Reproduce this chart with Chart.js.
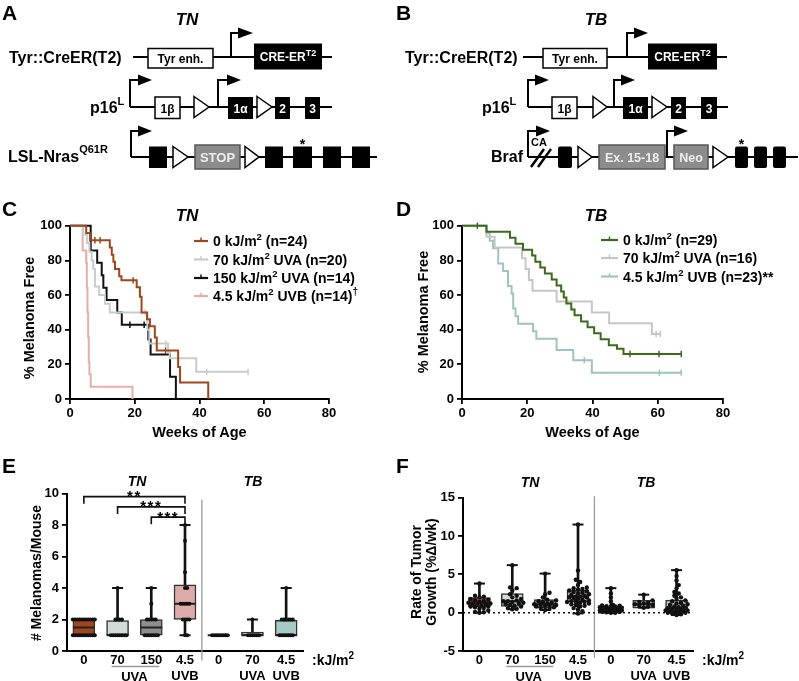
<!DOCTYPE html>
<html><head><meta charset="utf-8">
<script src="https://cdn.jsdelivr.net/npm/chart.js@4.4.1/dist/chart.umd.min.js"></script>
<style>
html,body{margin:0;padding:0;background:#fff;}
#wrap{position:relative;width:799px;height:681px;overflow:hidden;background:#fff;}
canvas{position:absolute;}
#ov{position:absolute;left:0;top:0;}
#ov text{font-family:'Liberation Sans',Arial,sans-serif;font-weight:bold;}
</style></head>
<body><div id="wrap">
<canvas id="cC" style="left:0px;top:215px;" width="345" height="230"></canvas>
<canvas id="cD" style="left:400px;top:215px;" width="340" height="230"></canvas>
<canvas id="cE" style="left:0px;top:470px;" width="320" height="211"></canvas>
<canvas id="cF" style="left:400px;top:470px;" width="310" height="211"></canvas>
<svg id="ov" width="799" height="681" viewBox="0 0 799 681">
<!-- panel letters -->
<text x="2" y="20" font-size="21">A</text>
<text x="396" y="20" font-size="21">B</text>
<text x="2" y="216" font-size="21">C</text>
<text x="396" y="216" font-size="21">D</text>
<text x="2" y="473" font-size="21">E</text>
<text x="396" y="473" font-size="21">F</text>
<!-- panel titles -->
<g font-style="italic" text-anchor="middle">
<text x="187" y="25" font-size="17" font-style="italic">TN</text>
<text x="596" y="25" font-size="17" font-style="italic">TB</text>
<text x="187" y="221" font-size="17" font-style="italic">TN</text>
<text x="596" y="221" font-size="17" font-style="italic">TB</text>
<text x="137" y="486" font-size="14" font-style="italic">TN</text>
<text x="253" y="486" font-size="14" font-style="italic">TB</text>
<text x="530" y="487" font-size="14" font-style="italic">TN</text>
<text x="646" y="487" font-size="14" font-style="italic">TB</text>
</g>
<!-- ===== Diagram A ===== -->
<text x="9" y="63" font-size="16">Tyr::CreER(T2)</text>
<text x="90" y="113" font-size="16">p16<tspan font-size="11" dy="-8">L</tspan></text>
<text x="8" y="162" font-size="16">LSL-Nras<tspan font-size="11" dy="-9">Q61R</tspan></text>
<g stroke="#000" stroke-width="2" fill="none">
<line x1="133" y1="57" x2="332" y2="57"/>
<line x1="130" y1="107" x2="332" y2="107"/>
<line x1="131" y1="157" x2="377" y2="157"/>
<path d="M231 57V33H240"/>
<path d="M130 107V80H139"/>
<path d="M218 107V80H228"/>
<path d="M131 157V131H139"/>
</g>
<g fill="#000">
<polygon points="238,27.5 253,33 238,38.5"/>
<polygon points="138,74.5 152,80 138,85.5"/>
<polygon points="227,74.5 241,80 227,85.5"/>
<polygon points="138,125.5 152,131 138,136.5"/>
</g>
<rect x="148" y="48.5" width="65" height="19.5" fill="#fff" stroke="#000" stroke-width="1.5"/>
<text x="180.5" y="62.5" font-size="12" text-anchor="middle">Tyr enh.</text>
<rect x="254" y="43.5" width="68" height="26" fill="#000"/>
<text x="288" y="61" font-size="12" text-anchor="middle" fill="#fff">CRE-ER<tspan font-size="9" dy="-5">T2</tspan></text>
<rect x="155" y="97" width="25" height="21.5" fill="#fff" stroke="#000" stroke-width="1.5"/>
<text x="167.5" y="112.5" font-size="12" text-anchor="middle">1β</text>
<polygon points="194,96.5 209,107 194,117.5" fill="#fff" stroke="#000" stroke-width="1.5"/>
<rect x="228" y="97" width="25" height="22" fill="#000"/>
<text x="240.5" y="112.5" font-size="12" text-anchor="middle" fill="#fff">1α</text>
<polygon points="257,96.5 272,107 257,117.5" fill="#fff" stroke="#000" stroke-width="1.5"/>
<rect x="275" y="97" width="15" height="22" fill="#000"/>
<text x="282.5" y="112.5" font-size="12" text-anchor="middle" fill="#fff">2</text>
<rect x="305" y="97" width="15" height="22" fill="#000"/>
<text x="312.5" y="112.5" font-size="12" text-anchor="middle" fill="#fff">3</text>
<rect x="149" y="146.5" width="18" height="21.5" fill="#000"/>
<polygon points="173,146.5 188,157 173,167.5" fill="#fff" stroke="#000" stroke-width="1.5"/>
<rect x="195" y="145" width="45" height="24" fill="#8c8c8c" stroke="#555" stroke-width="1.5"/>
<text x="217.5" y="162" font-size="13" text-anchor="middle" fill="#eee">STOP</text>
<polygon points="245,146.5 259,157 245,167.5" fill="#fff" stroke="#000" stroke-width="1.5"/>
<rect x="265" y="146.5" width="18" height="21.5" fill="#000"/>
<rect x="293" y="146.5" width="19" height="21.5" fill="#000"/>
<text x="302.5" y="149" font-size="14" text-anchor="middle">*</text>
<rect x="323" y="146.5" width="18" height="21.5" fill="#000"/>
<rect x="352" y="146.5" width="18" height="21.5" fill="#000"/>
<!-- ===== Diagram B ===== -->
<text x="405" y="63" font-size="16">Tyr::CreER(T2)</text>
<text x="482" y="113" font-size="16">p16<tspan font-size="11" dy="-8">L</tspan></text>
<text x="523" y="162" font-size="16" text-anchor="end">Braf</text>
<text x="531" y="146" font-size="11">CA</text>
<g stroke="#000" stroke-width="2" fill="none">
<line x1="523" y1="57" x2="727" y2="57"/>
<line x1="528" y1="107" x2="728" y2="107"/>
<line x1="528" y1="157" x2="798" y2="157"/>
<path d="M627 57V33H636"/>
<path d="M528 107V80H537"/>
<path d="M614 107V80H623"/>
<path d="M528 157V131H537"/>
<path d="M667 157V131H675"/>
</g>
<g stroke="#000" stroke-width="2.5">
<line x1="531" y1="167" x2="544" y2="149"/>
<line x1="538" y1="167" x2="551" y2="149"/>
</g>
<g fill="#000">
<polygon points="634,27.5 648,33 634,38.5"/>
<polygon points="535,74.5 549,80 535,85.5"/>
<polygon points="621,74.5 635,80 621,85.5"/>
<polygon points="536,125.5 550,131 536,136.5"/>
<polygon points="674,125.5 688,131 674,136.5"/>
</g>
<rect x="543" y="48.5" width="64" height="19.5" fill="#fff" stroke="#000" stroke-width="1.5"/>
<text x="575" y="62.5" font-size="12" text-anchor="middle">Tyr enh.</text>
<rect x="648" y="43.5" width="69" height="26" fill="#000"/>
<text x="682.5" y="61" font-size="12" text-anchor="middle" fill="#fff">CRE-ER<tspan font-size="9" dy="-5">T2</tspan></text>
<rect x="552" y="97" width="25" height="21.5" fill="#fff" stroke="#000" stroke-width="1.5"/>
<text x="564.5" y="112.5" font-size="12" text-anchor="middle">1β</text>
<polygon points="593,96.5 607,107 593,117.5" fill="#fff" stroke="#000" stroke-width="1.5"/>
<rect x="623" y="97" width="25" height="22" fill="#000"/>
<text x="635.5" y="112.5" font-size="12" text-anchor="middle" fill="#fff">1α</text>
<polygon points="652,96.5 667,107 652,117.5" fill="#fff" stroke="#000" stroke-width="1.5"/>
<rect x="671" y="97" width="15" height="22" fill="#000"/>
<text x="678.5" y="112.5" font-size="12" text-anchor="middle" fill="#fff">2</text>
<rect x="701" y="97" width="16" height="22" fill="#000"/>
<text x="709" y="112.5" font-size="12" text-anchor="middle" fill="#fff">3</text>
<rect x="558" y="146.5" width="14" height="21.5" rx="2" fill="#000"/>
<polygon points="578,146.5 592,157 578,167.5" fill="#fff" stroke="#000" stroke-width="1.5"/>
<rect x="599" y="145" width="66" height="24" fill="#8c8c8c" stroke="#555" stroke-width="1.5"/>
<text x="632" y="162" font-size="12.5" text-anchor="middle" fill="#eee">Ex. 15-18</text>
<rect x="674" y="145" width="34" height="24" fill="#8c8c8c" stroke="#555" stroke-width="1.5"/>
<text x="691" y="162" font-size="12.5" text-anchor="middle" fill="#eee">Neo</text>
<polygon points="713,146.5 728,157 713,167.5" fill="#fff" stroke="#000" stroke-width="1.5"/>
<rect x="735" y="146.5" width="13" height="21.5" rx="2" fill="#000"/>
<text x="741.5" y="149" font-size="14" text-anchor="middle">*</text>
<rect x="754" y="146.5" width="13" height="21.5" rx="2" fill="#000"/>
<rect x="773" y="146.5" width="13" height="21.5" rx="2" fill="#000"/>
<!-- axis titles -->
<text transform="translate(34,318) rotate(-90)" text-anchor="middle" font-size="14.5">% Melanoma Free</text>
<text transform="translate(428,312) rotate(-90)" text-anchor="middle" font-size="14.5">% Melanoma Free</text>
<text x="199.5" y="437" text-anchor="middle" font-size="14.5">Weeks of Age</text>
<text x="592.5" y="437" text-anchor="middle" font-size="14.5">Weeks of Age</text>
<text transform="translate(41,573) rotate(-90)" text-anchor="middle" font-size="14">&#35; Melanomas/Mouse</text>
<text transform="translate(421,572) rotate(-90)" text-anchor="middle" font-size="14">Rate of Tumor</text>
<text transform="translate(436,572) rotate(-90)" text-anchor="middle" font-size="14">Growth (%Δ/wk)</text>
<text x="312" y="665" font-size="14">:kJ/m<tspan font-size="10" dy="-6">2</tspan></text>
<text x="702" y="665" font-size="14">:kJ/m<tspan font-size="10" dy="-6">2</tspan></text>
<!-- legends -->
<g id="legC"></g>
<g id="legD"></g>
<g id="dyn"></g>
</svg>
</div>
<script>
// ================= DATA =================
// Panel C (TN) Kaplan-Meier: weeks of age and % melanoma free
const cWk0    = [0, 5.0, 6.2, 12.3, 12.9, 13.4, 13.9, 15.2, 15.9, 20.6, 21.6, 22.1, 23.8, 24.7, 26.2, 26.8, 33.4, 34.0, 42.7];
const cPct0   = [100, 95.8, 91.7, 87.5, 83.3, 79.2, 75.0, 70.8, 68.5, 64.5, 59.0, 50.0, 46.0, 42.0, 35.5, 28.0, 18.5, 9.5, 0];
const cWk70   = [0, 4.0, 5.2, 6.0, 6.7, 7.2, 7.7, 9.0, 10.8, 12.3, 23.9, 24.5, 30.3, 30.8, 39.0, 55.0];
const cPct70  = [100, 95.0, 90.0, 85.0, 80.0, 75.0, 65.0, 60.0, 55.0, 50.0, 40.0, 32.0, 27.0, 23.5, 15.7, 15.7];
const cWk150  = [0, 6.4, 8.4, 9.8, 10.3, 11.3, 14.6, 16.0, 24.2, 24.9, 30.9, 32.7];
const cPct150 = [100, 85.7, 78.6, 71.4, 64.3, 57.1, 50.0, 42.9, 34.3, 25.7, 12.9, 0];
const cWkUVB  = [0, 3.9, 5.0, 5.2, 5.4, 5.6, 5.8, 6.0, 6.4, 19.3];
const cPctUVB = [100, 85.7, 78.6, 64.3, 50.0, 35.7, 21.4, 14.3, 7.1, 0];
// censored marks
const cCensWk0 = [7.7, 9.3, 19.5, 29.5],  cCensPct0 = [91.7, 91.7, 68.5, 28.0];
const cCensWk70 = [23.2, 29.6, 42.2, 55.0], cCensPct70 = [50.0, 32.0, 15.7, 15.7];
const cCensWk150 = [18.5, 22.9], cCensPct150 = [42.9, 42.9];
const cCensWkUVB = [], cCensPctUVB = [];

// Panel D (TB)
const dWk0    = [0, 7.5, 14.7, 16.4, 18.7, 21.5, 22.5, 24.0, 25.4, 27.5, 29.0, 30.4, 31.2, 32.0, 33.5, 34.5, 36.5, 38.5, 40.5, 42.5, 45.0, 47.5, 49.5, 67.2];
const dPct0   = [100, 96.6, 93.1, 89.7, 86.2, 82.8, 79.3, 75.9, 72.4, 69.0, 65.5, 62.1, 58.6, 55.2, 51.7, 48.3, 44.8, 41.4, 37.9, 34.5, 31.0, 29.0, 26.0, 26.0];
const dWk70   = [0, 7.5, 10.0, 18.4, 19.5, 20.5, 21.6, 29.0, 39.8, 45.1, 58.2, 60.8];
const dPct70  = [100, 93.75, 87.5, 81.25, 75.0, 68.75, 62.5, 56.25, 50.0, 43.75, 37.5, 37.5];
const dWkUVB  = [0, 7.5, 8.5, 9.5, 11.1, 12.6, 14.1, 15.2, 15.7, 16.4, 17.2, 21.8, 22.8, 29.0, 34.1, 39.8, 67.2];
const dPctUVB = [100, 95.7, 91.3, 87.0, 78.3, 73.9, 65.2, 60.9, 52.2, 47.8, 43.5, 39.1, 34.8, 28.3, 22.4, 15.2, 15.2];
const dCensWk0 = [4.7, 51.5, 60.4, 67.2], dCensPct0 = [100, 26.0, 26.0, 26.0];
const dCensWk70 = [59.5, 60.8], dCensPct70 = [37.5, 37.5];
const dCensWkUVB = [37.5, 60.5, 67.2], dCensPctUVB = [22.4, 15.2, 15.2];

const kmWeekTicks = [0, 20, 40, 60, 80];
const kmPctTicks  = [0, 20, 40, 60, 80, 100];

// Panel E: melanomas per mouse
const eCats = ['0', '70', '150', '4.5', '0', '70', '4.5'];
const eSubs = ['', '', '', 'UVB', '', 'UVA', 'UVB'];
const eQ1  = [1, 1, 1, 2, 1, 1, 1];
const eMed = [1.5, 1, 1.5, 3, 1, 1, 1];
const eQ3  = [2, 1.93, 2, 4.2, 1, 1.2, 1.95];
const eMin = [1, 1, 1, 1, 1, 1, 1];
const eMax = [2, 4, 4, 8, 1, 2, 4];
const eDotsTN0   = [1,1,1,1,1,1,1,1,1,1,1, 2,2,2,2,2,2,2,2,2,2,2];
const eDotsTN70  = [1,1,1,1,1,1,1,1, 2,2,2,2, 4];
const eDotsTN150 = [1,1,1,1,1,1,1, 2,2,2,2,2, 3, 4];
const eDotsTNUVB = [1,1, 2,2,2,2, 3,3,3,3,3, 4,4, 5, 7, 8];
const eDotsTB0   = [1,1,1,1,1,1,1,1];
const eDotsTB70  = [1,1,1,1,1,1, 2];
const eDotsTBUVB = [1,1,1,1,1,1,1, 2,2,2,2,2,2, 4];
const eTicksY = [0, 2, 4, 6, 8, 10];
const eBracketFrom = [0, 1, 2];
const eBracketTo   = [3, 3, 3];
const eBracketY    = [9.8, 9.15, 8.5];
const eBracketText = ['**', '***', '***'];

// Panel F: rate of tumor growth (%Δ/wk)
const fQ1  = [0.78, 0.8, 0.65, 1.4, 0.2, 0.6, 0.1];
const fMed = [1.3, 1.5, 1.1, 2.1, 0.5, 1.1, 0.65];
const fQ3  = [1.96, 2.5, 1.7, 2.95, 0.9, 1.6, 1.65];
const fMin = [0.0, 0.45, 0.35, -0.1, 0.0, 0.65, -0.3];
const fMax = [3.8, 6.2, 5.1, 11.5, 3.2, 2.35, 5.55];
const fDotsTN0   = [0.0, 0.05, 0.1, 0.3, 0.5, 0.6, 0.7, 0.8, 0.8, 0.9, 1.0, 1.1, 1.2, 1.2, 1.3, 1.4, 1.5, 1.6, 1.7, 1.8, 2.0, 2.1, 2.2, 3.8];
const fDotsTN70  = [0.45, 0.5, 0.6, 0.8, 0.9, 1.0, 1.1, 1.2, 1.3, 1.4, 1.5, 1.5, 1.6, 1.8, 2.0, 2.2, 2.4, 2.9, 3.2, 3.3, 6.2];
const fDotsTN150 = [0.35, 0.5, 0.6, 0.7, 0.8, 0.9, 1.0, 1.0, 1.1, 1.1, 1.2, 1.3, 1.4, 1.5, 1.6, 1.7, 2.0, 2.4, 2.6, 5.1];
const fDotsTNUVB = [-0.1, 0.2, 0.4, 0.6, 0.8, 0.9, 1.0, 1.1, 1.2, 1.3, 1.4, 1.4, 1.5, 1.5, 1.6, 1.7, 1.8, 1.9, 2.0, 2.0, 2.1, 2.1, 2.2, 2.3, 2.4, 2.5, 2.6, 2.7, 2.8, 2.9, 3.0, 3.1, 3.2, 3.3, 3.6, 4.0, 4.3, 5.5, 11.5];
const fDotsTB0   = [0.0, 0.0, 0.05, 0.1, 0.1, 0.15, 0.2, 0.2, 0.25, 0.3, 0.3, 0.35, 0.4, 0.4, 0.45, 0.5, 0.5, 0.55, 0.6, 0.6, 0.65, 0.7, 0.75, 0.8, 0.85, 0.9, 0.95, 1.0, 1.5, 2.0, 2.5, 3.2];
const fDotsTB70  = [0.65, 0.8, 0.9, 1.0, 1.1, 1.2, 1.3, 1.4, 1.6, 2.35];
const fDotsTBUVB = [-0.3, -0.2, -0.1, 0.0, 0.0, 0.1, 0.1, 0.2, 0.2, 0.3, 0.3, 0.4, 0.4, 0.5, 0.6, 0.6, 0.7, 0.8, 0.9, 1.0, 1.1, 1.2, 1.3, 1.5, 1.6, 1.8, 2.0, 2.2, 2.5, 2.7, 3.2, 3.6, 4.2, 4.8, 5.55];
const fTicksY = [-5, 0, 5, 10, 15];

// ================= STYLE =================
const FONT = "'Liberation Sans', Arial, sans-serif";
Chart.defaults.font.family = FONT;
Chart.defaults.font.weight = 'bold';
Chart.defaults.color = '#000';
const COL = {
  brown: '#a0461e', lgray: '#c6cdcc', black: '#111111', pink: '#e4aeac',
  green: '#3a6b1d', dgray: '#c4c7c6', teal: '#9fc4c0'
};
const boxFill = ['#a0461e', '#d3dbda', '#8e8e8e', '#dcaaa8', '#2a2a2a', '#c6cccc', '#a6cac6'];

function pts(xs, ys) { return xs.map((x, i) => ({x: x, y: ys[i]})); }
const tickFont = {family: FONT, size: 13, weight: 'bold'};

function yAxis(min, max, ticks, width) {
  return {
    type: 'linear', min: min, max: max,
    afterBuildTicks: sc => { sc.ticks = ticks.map(v => ({value: v})); },
    ticks: {color: '#000', font: tickFont, padding: 3},
    grid: {drawOnChartArea: false, drawTicks: true, tickLength: 5, color: '#000', lineWidth: 1.8},
    border: {color: '#000', width: 2},
    afterFit: sc => { sc.width = width; }
  };
}

// ================= KM charts =================
function kmChart(id, series, g) {
  const ds = [];
  series.forEach((s, k) => {
    ds.push({type: 'line', data: pts(s.wk, s.pct), borderColor: s.color, borderWidth: 2,
      stepped: 'before', pointRadius: 0, fill: false, clip: false, order: k});
    ds.push({type: 'scatter', data: pts(s.cwk, s.cpct), pointStyle: 'line', pointRotation: 90,
      pointRadius: 3.2, pointBorderColor: s.color, pointBackgroundColor: s.color, pointBorderWidth: 1.5,
      clip: false, order: k});
  });
  return new Chart(document.getElementById(id), {
    type: 'scatter',
    data: {datasets: ds},
    options: {
      responsive: false, animation: false, events: [],
      layout: {padding: g.pad},
      plugins: {legend: {display: false}, tooltip: {enabled: false}},
      scales: {
        x: {
          type: 'linear', min: 0, max: 80,
          afterBuildTicks: sc => { sc.ticks = kmWeekTicks.map(v => ({value: v})); },
          ticks: {color: '#000', font: tickFont, padding: 2, maxRotation: 0},
          grid: {drawOnChartArea: false, drawTicks: true, tickLength: 5, color: '#000', lineWidth: 1.8},
          border: {color: '#000', width: 2},
          afterFit: sc => { sc.height = g.xh; }
        },
        y: yAxis(0, 100, kmPctTicks, g.yw)
      }
    }
  });
}

kmChart('cC', [
  {wk: cWk0, pct: cPct0, cwk: cCensWk0, cpct: cCensPct0, color: COL.brown},
  {wk: cWk70, pct: cPct70, cwk: cCensWk70, cpct: cCensPct70, color: COL.lgray},
  {wk: cWk150, pct: cPct150, cwk: cCensWk150, cpct: cCensPct150, color: COL.black},
  {wk: cWkUVB, pct: cPctUVB, cwk: cCensWkUVB, cpct: cCensPctUVB, color: COL.pink}
], {pad: {top: 10, right: 16, left: 0, bottom: 0}, yw: 70, xh: 46});

kmChart('cD', [
  {wk: dWk0, pct: dPct0, cwk: dCensWk0, cpct: dCensPct0, color: COL.green},
  {wk: dWk70, pct: dPct70, cwk: dCensWk70, cpct: dCensPct70, color: COL.dgray},
  {wk: dWkUVB, pct: dPctUVB, cwk: dCensWkUVB, cpct: dCensPctUVB, color: COL.teal}
], {pad: {top: 10, right: 17, left: 0, bottom: 0}, yw: 62, xh: 46});

// ================= Legends (SVG text) =================
const NS = 'http://www.w3.org/2000/svg';
function el(tag, attrs, parent, html) {
  const e = document.createElementNS(NS, tag);
  for (const k in attrs) e.setAttribute(k, attrs[k]);
  if (html !== undefined) e.innerHTML = html;
  parent.appendChild(e);
  return e;
}
function legend(gid, items, x0, x1, tx, baselines) {
  const g = document.getElementById(gid);
  items.forEach((it, i) => {
    const y = baselines[i] - 5;
    el('line', {x1: x0, y1: y, x2: x1, y2: y, stroke: it.color, 'stroke-width': 2.2}, g);
    el('line', {x1: (x0 + x1) / 2, y1: y - 3.5, x2: (x0 + x1) / 2, y2: y, stroke: it.color, 'stroke-width': 1.5}, g);
    el('text', {x: tx, y: baselines[i], 'font-size': 14}, g, it.html);
  });
}
const sup2 = '<tspan font-size="9.5" dy="-6">2</tspan><tspan dy="6">';
legend('legC', [
  {color: COL.brown, html: '0 kJ/m' + sup2 + ' (n=24)</tspan>'},
  {color: COL.lgray, html: '70 kJ/m' + sup2 + ' UVA (n=20)</tspan>'},
  {color: COL.black, html: '150 kJ/m' + sup2 + ' UVA (n=14)</tspan>'},
  {color: COL.pink, html: '4.5 kJ/m' + sup2 + ' UVB (n=14)</tspan><tspan font-size="10" dy="-6">†</tspan>'}
], 194, 208, 213, [246, 264.5, 283, 301]);
legend('legD', [
  {color: COL.green, html: '0 kJ/m' + sup2 + ' (n=29)</tspan>'},
  {color: COL.dgray, html: '70 kJ/m' + sup2 + ' UVA (n=16)</tspan>'},
  {color: COL.teal, html: '4.5 kJ/m' + sup2 + ' UVB (n=23)**</tspan>'}
], 601, 618, 623, [245, 263, 281.5]);

// ================= Box plots =================
// beeswarm-style horizontal spread (layout only)
function swarm(vals, pxPerUnit, step, minDist, maxPx) {
  const order = vals.map((v, i) => i).sort((a, b) => vals[a] - vals[b]);
  const placed = [], offs = new Array(vals.length);
  const cands = [0];
  for (let k = 1; k * step <= maxPx + 1e-6; k++) { cands.push(k * step); cands.push(-k * step); }
  order.forEach(i => {
    const py = vals[i] * pxPerUnit;
    let best = 0, bestD = -1;
    for (const px of cands) {
      let md = Infinity;
      for (const p of placed) { const d = Math.hypot(p.px - px, p.py - py); if (d < md) md = d; }
      if (md >= minDist) { best = px; bestD = Infinity; break; }
      if (md > bestD) { bestD = md; best = px; }
    }
    placed.push({px: best, py: py});
    offs[i] = best;
  });
  return offs;
}

function boxChart(id, b, g, extra) {
  const idx = b.q1.map((_, i) => i);
  const caps = [];
  idx.forEach(i => { caps.push({x: i, y: b.lo[i]}); caps.push({x: i, y: b.hi[i]}); });
  const dots = [];
  b.dots.forEach((vals, i) => {
    const offs = swarm(vals, g.pxPerUnit, g.step, g.minDist, g.maxPx);
    vals.forEach((v, j) => dots.push({x: i + offs[j] / g.catPx, y: v}));
  });
  const ds = [
    {type: 'bar', data: idx.map(i => ({x: i, y: [b.lo[i], b.hi[i]]})), backgroundColor: '#111',
      barThickness: 2, grouped: false, order: 8},
    {type: 'bar', data: idx.map(i => ({x: i, y: [b.q1[i], b.q3[i]]})), backgroundColor: boxFill,
      borderColor: '#333', borderWidth: 1.5, borderSkipped: false, barThickness: 22, grouped: false, order: 7},
    {type: 'scatter', data: idx.map(i => ({x: i, y: b.med[i]})), pointStyle: 'line', pointRadius: 11,
      pointBorderColor: '#222', pointBorderWidth: 2, order: 6},
    {type: 'scatter', data: caps, pointStyle: 'line', pointRadius: 5.5, pointBorderColor: '#111',
      pointBorderWidth: 2, clip: false, order: 5},
    {type: 'scatter', data: dots, pointRadius: g.dotR, pointBackgroundColor: '#111', pointBorderWidth: 0,
      clip: false, order: 1}
  ].concat(extra);
  return new Chart(document.getElementById(id), {
    type: 'bar',
    data: {datasets: ds},
    options: {
      responsive: false, animation: false, events: [],
      layout: {padding: g.pad},
      plugins: {legend: {display: false}, tooltip: {enabled: false}},
      scales: {
        x: {
          type: 'linear', min: -0.5, max: 6.5, offset: false,
          afterBuildTicks: sc => { sc.ticks = eCats.map((_, i) => ({value: i})); },
          ticks: {color: '#000', font: tickFont, padding: 2, maxRotation: 0, autoSkip: false,
            callback: v => [eCats[v], eSubs[v]]},
          grid: {drawOnChartArea: false, drawTicks: false, offset: false},
          border: {color: '#000', width: 2},
          afterFit: sc => { sc.height = g.xh; }
        },
        y: yAxis(g.ymin, g.ymax, g.yticks, g.yw)
      }
    }
  });
}

// E extras: brackets and divider
const eExtra = [];
eBracketFrom.forEach((f, k) => {
  const t = eBracketTo[k], y = eBracketY[k];
  eExtra.push({type: 'line', data: [{x: f, y: y - 0.45}, {x: f, y: y}, {x: t, y: y}, {x: t, y: y - 0.45}],
    borderColor: '#111', borderWidth: 1.6, pointRadius: 0, fill: false, clip: false, order: 2});
});
eExtra.push({type: 'line', data: [{x: 3.5, y: -0.6}, {x: 3.5, y: 9.6}], borderColor: '#9a9a9a',
  borderWidth: 1.3, pointRadius: 0, clip: false, order: 9});

const chE = boxChart('cE', {
  q1: eQ1, med: eMed, q3: eQ3, lo: eMin, hi: eMax,
  dots: [eDotsTN0, eDotsTN70, eDotsTN150, eDotsTNUVB, eDotsTB0, eDotsTB70, eDotsTBUVB]
}, {pad: {top: 23.5, right: 17, left: 0, bottom: 0}, yw: 67, xh: 30, ymin: 0, ymax: 10, yticks: eTicksY,
    pxPerUnit: 15.75, catPx: 33.7, step: 2.2, minDist: 2.1, maxPx: 11, dotR: 2}, eExtra);

const fExtra = [
  {type: 'line', data: [{x: -0.5, y: 0}, {x: 6.5, y: 0}], borderColor: '#111', borderWidth: 1.4,
    borderDash: [2, 3], pointRadius: 0, order: 9},
  {type: 'line', data: [{x: 3.5, y: -5.9}, {x: 3.5, y: 15.2}], borderColor: '#9a9a9a',
    borderWidth: 1.3, pointRadius: 0, clip: false, order: 9}
];
const chF = boxChart('cF', {
  q1: fQ1, med: fMed, q3: fQ3, lo: fMin, hi: fMax,
  dots: [fDotsTN0, fDotsTN70, fDotsTN150, fDotsTNUVB, fDotsTB0, fDotsTB70, fDotsTBUVB]
}, {pad: {top: 27.7, right: 17, left: 0, bottom: 0}, yw: 63, xh: 30, ymin: -5, ymax: 15, yticks: fTicksY,
    pxPerUnit: 7.67, catPx: 32.9, step: 2.2, minDist: 3.6, maxPx: 11, dotR: 2.2}, fExtra);

// ================= Annotations placed through chart scales =================
const dyn = document.getElementById('dyn');
function annotate(chart, offX, offY, stars) {
  const sx = chart.scales.x, sy = chart.scales.y;
  const a = sx.getPixelForValue(1) + offX, b2 = sx.getPixelForValue(2) + offX;
  el('line', {x1: a - 6, y1: 666.5, x2: b2 + 8, y2: 666.5, stroke: '#9a9a9a', 'stroke-width': 1.3}, dyn);
  el('text', {x: (a + b2) / 2, y: 680.5, 'font-size': 13, 'text-anchor': 'middle'}, dyn, 'UVA');
  if (stars) {
    eBracketFrom.forEach((f, k) => {
      const cx = (sx.getPixelForValue(f) + sx.getPixelForValue(eBracketTo[k])) / 2 + offX;
      const cy = sy.getPixelForValue(eBracketY[k]) + offY;
      el('text', {x: cx, y: cy + 4.5, 'font-size': 15, 'text-anchor': 'middle', 'letter-spacing': 1.5}, dyn, eBracketText[k]);
    });
  }
}
annotate(chE, 0, 470, true);
annotate(chF, 400, 470, false);
</script>
</body></html>
